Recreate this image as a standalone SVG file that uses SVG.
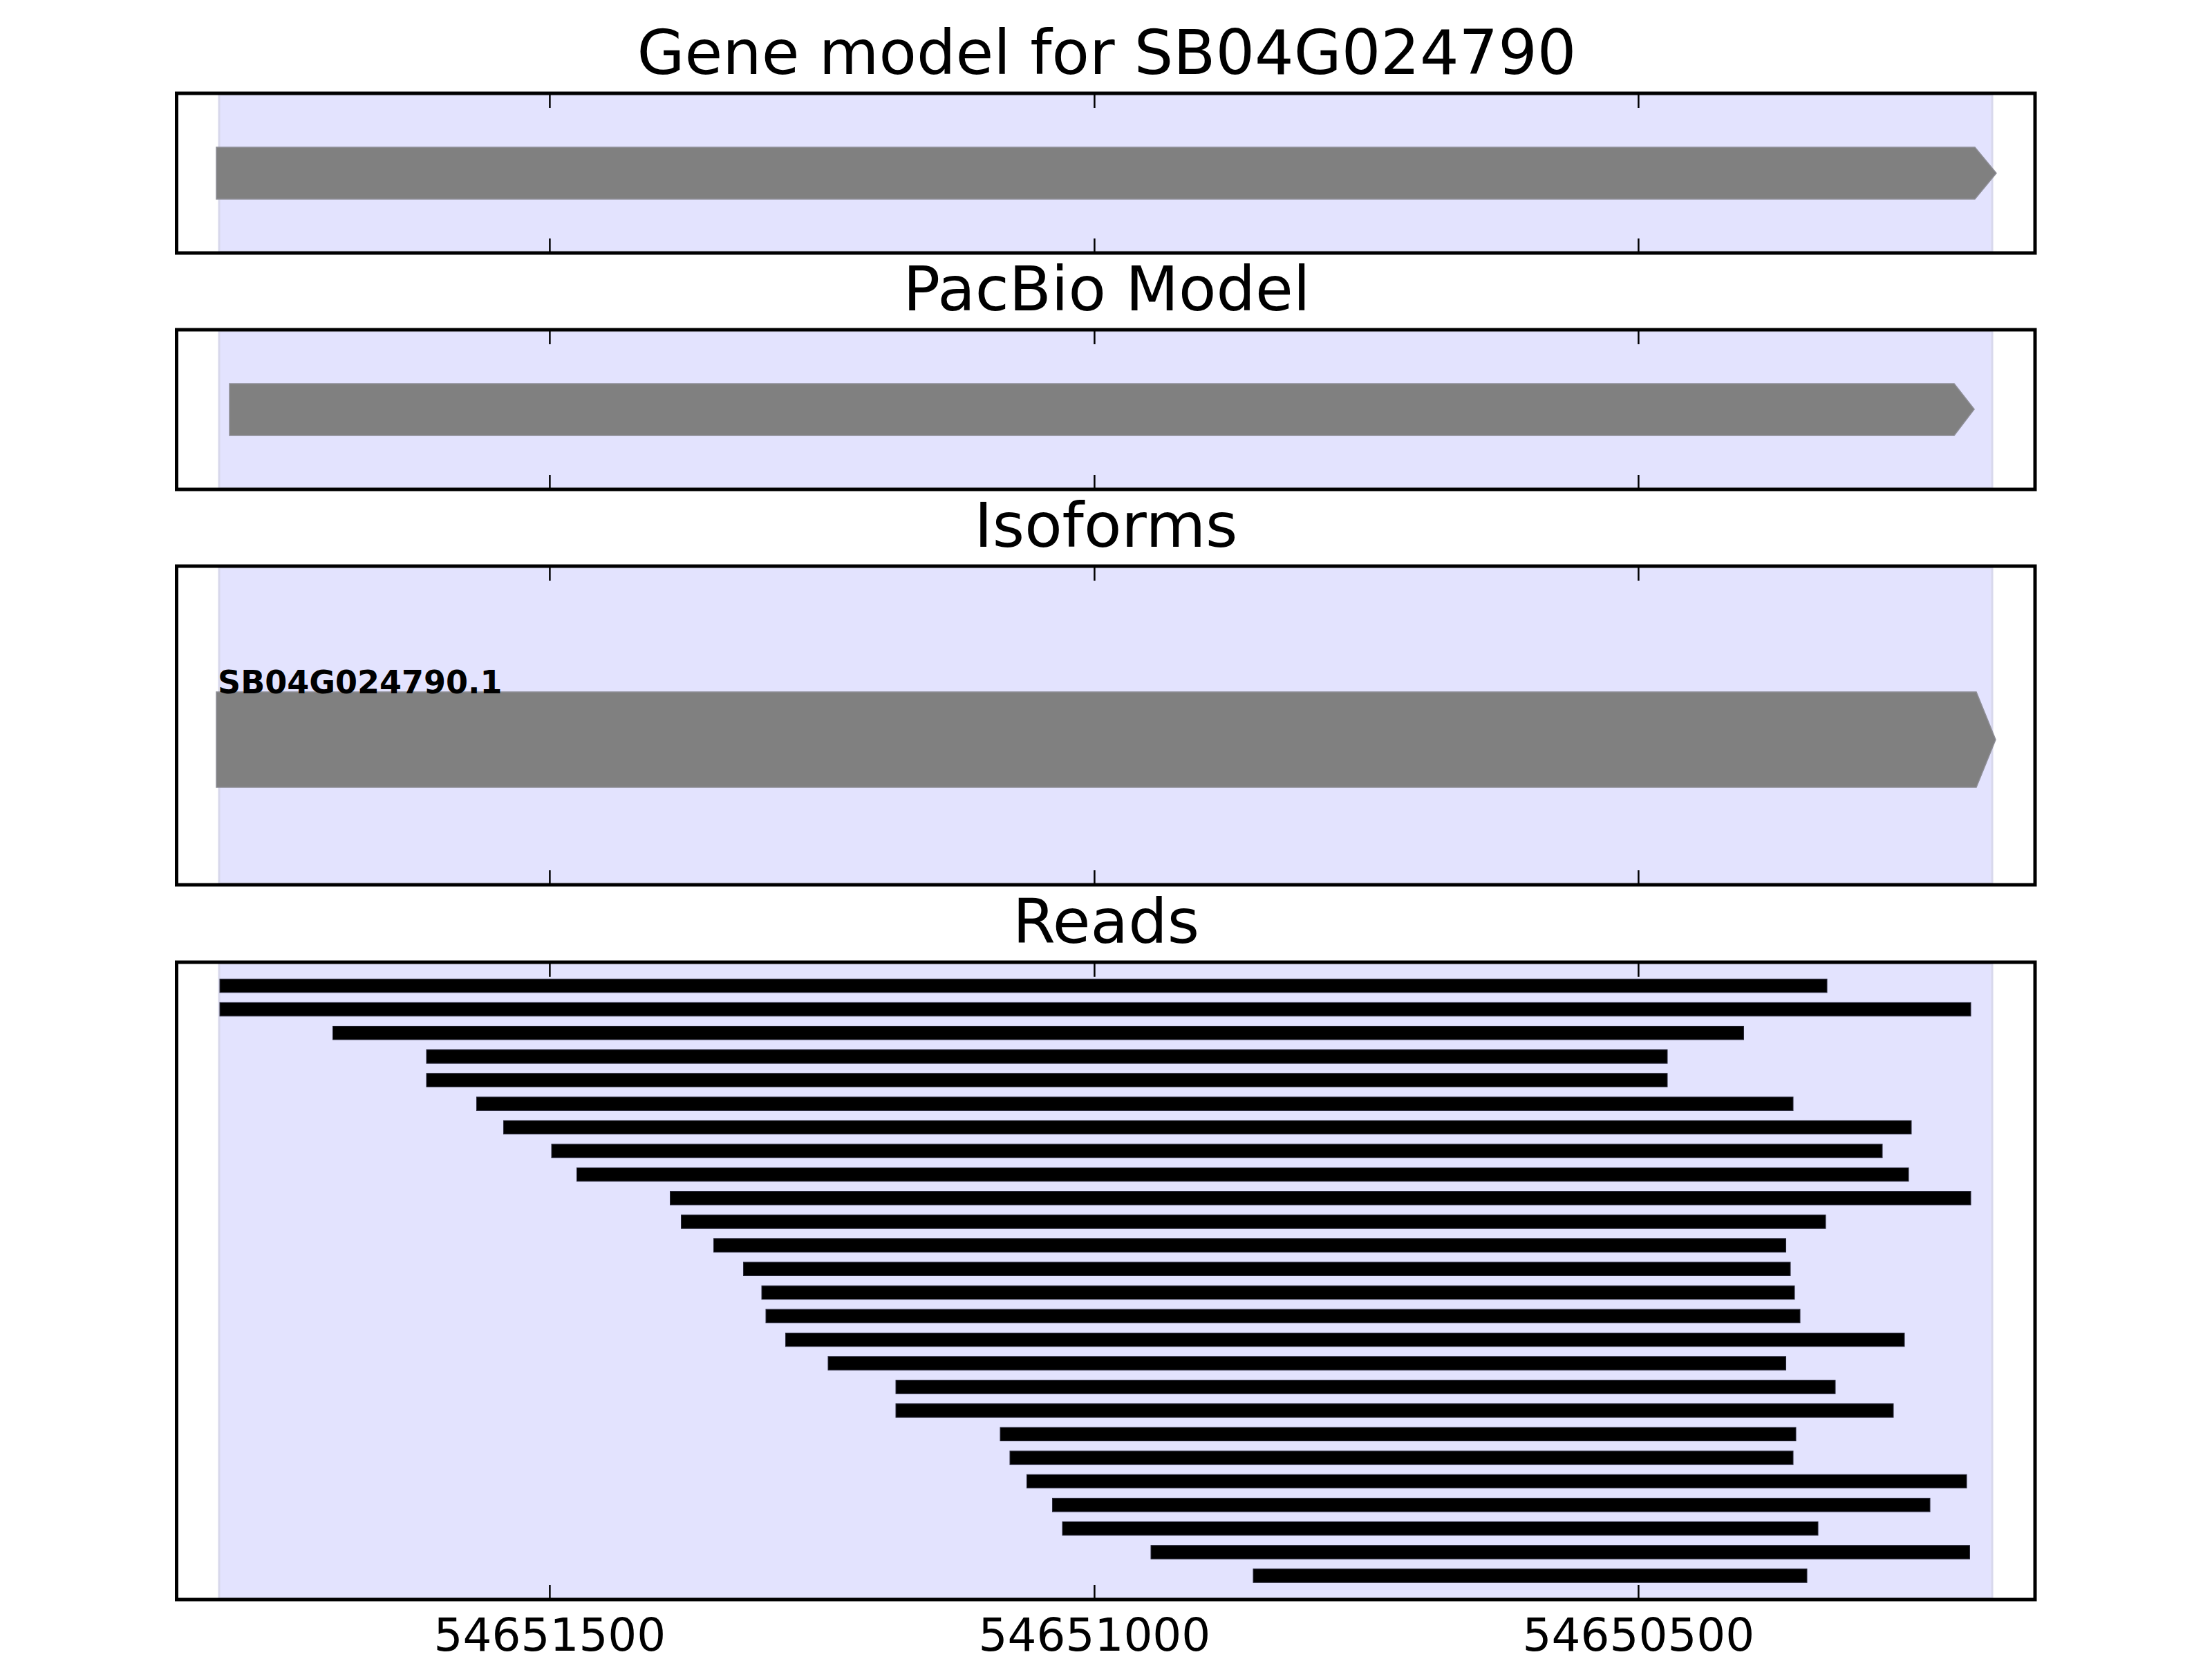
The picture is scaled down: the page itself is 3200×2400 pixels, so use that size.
<svg xmlns="http://www.w3.org/2000/svg" width="3200" height="2400" viewBox="0 0 3200 2400">
<style>
.title{font-family:"DejaVu Sans",sans-serif;font-size:89px;fill:#000;text-anchor:middle}
.tick-label{font-family:"DejaVu Sans",sans-serif;font-size:66px;fill:#000;text-anchor:middle}
.iso-label{font-family:"DejaVu Sans",sans-serif;font-size:46px;font-weight:bold;fill:#000}
.frame{fill:none;stroke:#000;stroke-width:5}
.span{fill:#e3e3fe;stroke:#d8d8ec;stroke-width:3}
.gene{fill:#808080;stroke:#8e8e96;stroke-width:1.5}
.tick{stroke:#000;stroke-width:2.5}
.read{fill:#000;stroke:#2a2a3a;stroke-width:1}
</style>
<rect width="3200" height="2400" fill="#fff"/>

<g id="panel-gene-model">
  <rect class="span" x="317" y="137" width="2565" height="227"/>
  <polygon class="gene" points="313,213 2857,213 2888,250.5 2857,288 313,288"/>
  <path class="tick" d="M795.4,137v19M1583.4,137v19M2370.4,137v19M795.4,364v-19M1583.4,364v-19M2370.4,364v-19"/>
  <rect class="frame" x="255.5" y="135" width="2688.5" height="231"/>
  <text class="title" x="1601" y="107">Gene model for SB04G024790</text>
</g>

<g id="panel-pacbio">
  <rect class="span" x="317" y="479" width="2565" height="227"/>
  <polygon class="gene" points="332,555 2827,555 2856,592 2827,630 332,630"/>
  <path class="tick" d="M795.4,479v19M1583.4,479v19M2370.4,479v19M795.4,706v-19M1583.4,706v-19M2370.4,706v-19"/>
  <rect class="frame" x="255.5" y="477" width="2688.5" height="231"/>
  <text class="title" x="1601" y="449">PacBio Model</text>
</g>

<g id="panel-isoforms">
  <rect class="span" x="317" y="821" width="2565" height="457"/>
  <polygon class="gene" points="313,1001 2859,1001 2887,1070 2859,1139 313,1139"/>
  <text class="iso-label" x="315" y="1003">SB04G024790.1</text>
  <path class="tick" d="M795.4,821v19M1583.4,821v19M2370.4,821v19M795.4,1278v-19M1583.4,1278v-19M2370.4,1278v-19"/>
  <rect class="frame" x="255.5" y="819" width="2688.5" height="461"/>
  <text class="title" x="1600" y="791">Isoforms</text>
</g>

<g id="panel-reads">
  <rect class="span" x="317" y="1394" width="2565" height="918"/>
  <g id="reads">
    <rect class="read" x="318" y="1416.3" width="2325" height="19.5"/>
    <rect class="read" x="318" y="1450.4" width="2533" height="19.5"/>
    <rect class="read" x="481.5" y="1484.5" width="2041" height="19.5"/>
    <rect class="read" x="617" y="1518.7" width="1795" height="19.5"/>
    <rect class="read" x="617" y="1552.8" width="1795" height="19.5"/>
    <rect class="read" x="689.5" y="1587" width="1904.5" height="19.5"/>
    <rect class="read" x="728.5" y="1621.1" width="2036.5" height="19.5"/>
    <rect class="read" x="798" y="1655.2" width="1925" height="19.5"/>
    <rect class="read" x="834.5" y="1689.4" width="1926.5" height="19.5"/>
    <rect class="read" x="969.5" y="1723.5" width="1881.5" height="19.5"/>
    <rect class="read" x="985.5" y="1757.7" width="1655.5" height="19.5"/>
    <rect class="read" x="1032.5" y="1791.8" width="1551" height="19.5"/>
    <rect class="read" x="1075.5" y="1826" width="1514.5" height="19.5"/>
    <rect class="read" x="1102" y="1860.1" width="1494" height="19.5"/>
    <rect class="read" x="1108" y="1894.2" width="1496" height="19.5"/>
    <rect class="read" x="1136.5" y="1928.4" width="1618.5" height="19.5"/>
    <rect class="read" x="1198" y="1962.5" width="1385.5" height="19.5"/>
    <rect class="read" x="1296" y="1996.7" width="1359" height="19.5"/>
    <rect class="read" x="1296" y="2030.8" width="1443" height="19.5"/>
    <rect class="read" x="1447" y="2065" width="1151" height="19.5"/>
    <rect class="read" x="1461" y="2099.1" width="1133" height="19.5"/>
    <rect class="read" x="1485.5" y="2133.2" width="1359.5" height="19.5"/>
    <rect class="read" x="1522.5" y="2167.4" width="1269.5" height="19.5"/>
    <rect class="read" x="1537" y="2201.5" width="1093" height="19.5"/>
    <rect class="read" x="1665" y="2235.7" width="1184.5" height="19.5"/>
    <rect class="read" x="1813" y="2269.8" width="801" height="19.5"/>
  </g>
  <path class="tick" d="M795.4,1394v19M1583.4,1394v19M2370.4,1394v19M795.4,2312v-19M1583.4,2312v-19M2370.4,2312v-19"/>
  <rect class="frame" x="255.5" y="1392" width="2688.5" height="922"/>
  <text class="title" x="1600" y="1364">Reads</text>
  <text class="tick-label" x="795.4" y="2388">54651500</text>
  <text class="tick-label" x="1583.4" y="2388">54651000</text>
  <text class="tick-label" x="2370.4" y="2388">54650500</text>
</g>
</svg>
